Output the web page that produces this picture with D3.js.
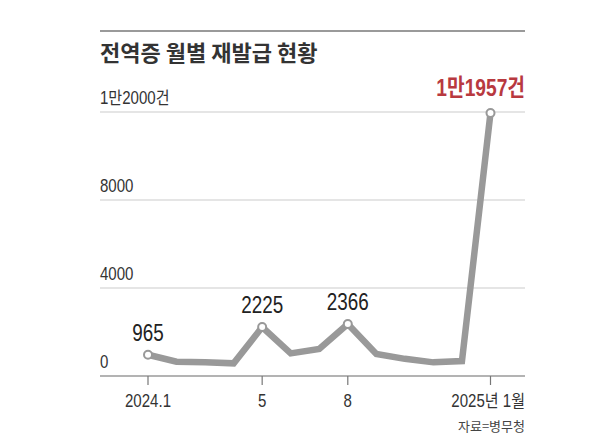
<!DOCTYPE html>
<html><head><meta charset="utf-8">
<script src="https://cdn.jsdelivr.net/npm/d3@7"></script>
<style>
body{margin:0;background:#fff;}
text{font-family:"Liberation Sans","Noto Sans CJK KR",sans-serif;}
</style></head>
<body><svg id="c" width="598" height="444"></svg>
<script>
const months = ["2024.1","2","3","4","5","6","7","8","9","10","11","12","2025.1"];
const values = [965, 650, 620, 575, 2225, 1030, 1230, 2366, 1000, 780, 620, 680, 11957];
const yTicks = [0, 4000, 8000, 12000];
const yTickLabels = ["0", "4000", "8000", "1만2000건"];
const xTickIdx = [0, 4, 7, 12];
const xTickLabels = ["2024.1", "5", "8", "2025년 1월"];
const labeledIdx = [0, 4, 7];
const title = "전역증 월별 재발급 현황";
const source = "자료=병무청";
const peakLabel = "1만1957건";

const svg = d3.select("#c");
const L = 100, R = 525;
const x = d3.scaleLinear().domain([0, 12]).range([148, 490.5]);
const y = d3.scaleLinear().domain([0, 12000]).range([376, 112]);

function ntext(px, py, str, size, anchor, fill, weight, sx) {
  return svg.append("text").attr("transform", `translate(${px},${py}) scale(${sx || 0.82},1)`)
    .attr("text-anchor", anchor || "start").attr("font-size", size)
    .attr("fill", fill || "#333").attr("font-weight", weight || 400).text(str);
}

// top rule
svg.append("line").attr("x1", L).attr("x2", R).attr("y1", 31).attr("y2", 31)
  .attr("stroke", "#9a9a9a").attr("stroke-width", 2);
svg.append("text").attr("x", L).attr("y", 61).text(title)
  .style("font-family", "'Noto Sans CJK KR',sans-serif").attr("font-weight", 700)
  .attr("font-size", 22).attr("fill", "#333");

// grid
yTicks.forEach((t, i) => {
  if (t > 0) svg.append("line").attr("x1", L).attr("x2", R).attr("y1", y(t)).attr("y2", y(t))
    .attr("stroke", "#dcdcdc").attr("stroke-width", 1.5);
  ntext(L, y(t) - 8, yTickLabels[i], 17.5, "start", "#333", 400, 0.86);
});

// x axis
svg.append("line").attr("x1", L).attr("x2", R).attr("y1", y(0)).attr("y2", y(0))
  .attr("stroke", "#9a9a9a").attr("stroke-width", 1.5);
xTickIdx.forEach((idx, i) => {
  svg.append("line").attr("x1", x(idx)).attr("x2", x(idx)).attr("y1", y(0)).attr("y2", y(0) + 9)
    .attr("stroke", "#777").attr("stroke-width", 1.2);
  const last = i === xTickIdx.length - 1;
  ntext(last ? R : x(idx), 407, xTickLabels[i], 17.5, last ? "end" : "middle", "#333", 400, 0.86);
});

// line
const line = d3.line().x((d, i) => x(i)).y(d => y(d));
svg.append("path").datum(values).attr("d", line).attr("fill", "none")
  .attr("stroke", "#999").attr("stroke-width", 6.5).attr("stroke-linejoin", "miter");

// markers
[...labeledIdx, 12].forEach(i => {
  svg.append("circle").attr("cx", x(i)).attr("cy", y(values[i])).attr("r", 4)
    .attr("fill", "#fff").attr("stroke", "#999").attr("stroke-width", 2);
});
labeledIdx.forEach(i => {
  ntext(x(i), y(values[i]) - 14, d3.format("d")(values[i]), 23, "middle", "#222");
});
ntext(R, 96, peakLabel, 24, "end", "#b8393f", 700, 0.8);

svg.append("text").attr("x", R).attr("y", 431).attr("text-anchor", "end").text(source)
  .style("font-family", "'Noto Sans CJK KR',sans-serif")
  .attr("font-size", 13).attr("fill", "#444");
</script></body></html>
